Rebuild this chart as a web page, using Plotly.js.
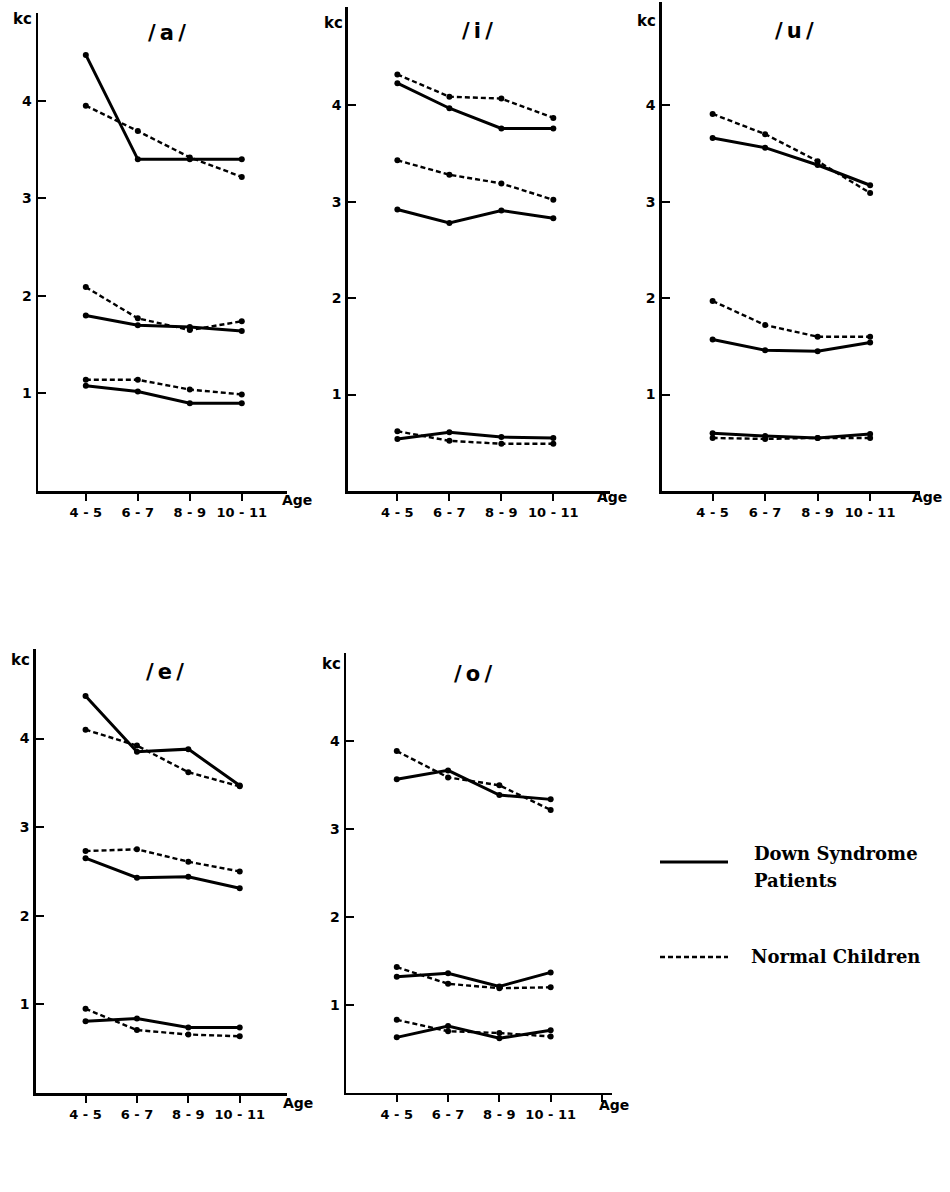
<!DOCTYPE html>
<html>
<head>
<meta charset="utf-8">
<script src="https://cdn.plot.ly/plotly-3.0.1.min.js"></script>
<style>
  html, body { margin: 0; padding: 0; background: #fff; }
  #chart { width: 950px; height: 1192px; }
</style>
</head>
<body>
<div id="chart"></div>
<script>
// ---------------- DATA (kc) ----------------
const ageGroups = ['4 - 5', '6 - 7', '8 - 9', '10 - 11'];
const seriesNames = ['Down Syndrome Patients', 'Normal Children'];

// /a/
const a_down_f1 = [1.08, 1.02, 0.90, 0.90];
const a_down_f2 = [1.80, 1.70, 1.68, 1.64];
const a_down_f3 = [4.47, 3.40, 3.40, 3.40];
const a_norm_f1 = [1.14, 1.14, 1.04, 0.99];
const a_norm_f2 = [2.09, 1.77, 1.65, 1.74];
const a_norm_f3 = [3.95, 3.69, 3.42, 3.22];

// /i/
const i_down_f1 = [0.54, 0.61, 0.56, 0.55];
const i_down_f2 = [2.92, 2.78, 2.91, 2.83];
const i_down_f3 = [4.23, 3.97, 3.76, 3.76];
const i_norm_f1 = [0.62, 0.52, 0.49, 0.49];
const i_norm_f2 = [3.43, 3.28, 3.19, 3.02];
const i_norm_f3 = [4.32, 4.09, 4.07, 3.87];

// /u/
const u_down_f1 = [0.60, 0.57, 0.55, 0.59];
const u_down_f2 = [1.57, 1.46, 1.45, 1.54];
const u_down_f3 = [3.66, 3.56, 3.38, 3.17];
const u_norm_f1 = [0.55, 0.54, 0.55, 0.55];
const u_norm_f2 = [1.97, 1.72, 1.60, 1.60];
const u_norm_f3 = [3.91, 3.70, 3.42, 3.09];

// /e/
const e_down_f1 = [0.81, 0.84, 0.74, 0.74];
const e_down_f2 = [2.65, 2.43, 2.44, 2.31];
const e_down_f3 = [4.48, 3.85, 3.88, 3.47];
const e_norm_f1 = [0.95, 0.71, 0.66, 0.64];
const e_norm_f2 = [2.73, 2.75, 2.61, 2.50];
const e_norm_f3 = [4.10, 3.92, 3.62, 3.46];

// /o/
const o_down_f1 = [0.63, 0.76, 0.62, 0.71];
const o_down_f2 = [1.32, 1.36, 1.21, 1.37];
const o_down_f3 = [3.57, 3.67, 3.39, 3.34];
const o_norm_f1 = [0.83, 0.70, 0.68, 0.64];
const o_norm_f2 = [1.43, 1.24, 1.19, 1.20];
const o_norm_f3 = [3.89, 3.59, 3.50, 3.22];

const yTickVals = [1, 2, 3, 4];
const yTickText = ['1', '2', '3', '4'];

const vowelSeries = {
  a: { down: [a_down_f1, a_down_f2, a_down_f3], norm: [a_norm_f1, a_norm_f2, a_norm_f3] },
  i: { down: [i_down_f1, i_down_f2, i_down_f3], norm: [i_norm_f1, i_norm_f2, i_norm_f3] },
  u: { down: [u_down_f1, u_down_f2, u_down_f3], norm: [u_norm_f1, u_norm_f2, u_norm_f3] },
  e: { down: [e_down_f1, e_down_f2, e_down_f3], norm: [e_norm_f1, e_norm_f2, e_norm_f3] },
  o: { down: [o_down_f1, o_down_f2, o_down_f3], norm: [o_norm_f1, o_norm_f2, o_norm_f3] }
};

// ---------------- LAYOUT (pixel geometry of each panel) ----------------
const W = 950, H = 1192;
const fx = p => p / W;
const fy = p => 1 - p / H;

const panels = [
  { v: 'a', title: '/\u2009a\u2009/', px: [38, 287],    py: [13, 491],    xr: [-0.92, 3.87], yr: [0, 4.90], extra: false,
    kc: [22, 19], tp: [167, 33], age: [297, 500] },
  { v: 'i', title: '/\u2009i\u2009/', px: [347.7, 610], py: [7, 491],     xr: [-0.956, 4.09], yr: [0, 5.02], extra: true,
    kc: [333, 23], tp: [477, 31], age: [612, 497] },
  { v: 'u', title: '/\u2009u\u2009/', px: [661.7, 920], py: [2, 491],     xr: [-0.97, 3.95], yr: [0, 5.07], extra: false,
    kc: [646, 21], tp: [794, 31], age: [927, 497] },
  { v: 'e', title: '/\u2009e\u2009/', px: [35.7, 287],  py: [649, 1093],  xr: [-0.97, 3.92], yr: [0, 5.01], extra: false,
    kc: [20, 660], tp: [165, 672], age: [298, 1103] },
  { v: 'o', title: '/\u2009o\u2009/', px: [346, 611.7], py: [652.7, 1092.7], xr: [-0.99, 4.19], yr: [0, 5.01], extra: true,
    kc: [331, 664], tp: [473, 674], age: [614, 1105] }
];

const SANS = 'DejaVu Sans, Liberation Sans, Arial, sans-serif';
const xTickFont = { family: SANS, size: 13, color: '#000', weight: 'bold' };
const yTickFont = { family: SANS, size: 14, color: '#000', weight: 'bold' };
const xIdx = ageGroups.map((_, k) => k);

const traces = [];
const layout = {
  width: W, height: H,
  margin: { l: 0, r: 0, t: 0, b: 0, pad: 0 },
  paper_bgcolor: '#fff', plot_bgcolor: '#fff',
  showlegend: false,
  annotations: [],
  shapes: []
};

panels.forEach((p, n) => {
  const id = n + 1;
  const xName = id === 1 ? 'x' : 'x' + id;
  const yName = id === 1 ? 'y' : 'y' + id;
  const xKey = id === 1 ? 'xaxis' : 'xaxis' + id;
  const yKey = id === 1 ? 'yaxis' : 'yaxis' + id;
  const ovId = id + 5;

  const tv = p.extra ? xIdx.concat([ageGroups.length]) : xIdx.slice();
  const tt = p.extra ? ageGroups.concat(['']) : ageGroups.slice();

  layout[xKey] = {
    domain: [fx(p.px[0]), fx(p.px[1])],
    anchor: yName,
    range: p.xr,
    tickmode: 'array', tickvals: tv, ticktext: tt,
    ticks: 'outside', ticklen: 7, tickwidth: 2, tickcolor: '#000',
    showline: true, linewidth: 2.5, linecolor: '#000',
    showgrid: false, zeroline: false,
    tickfont: xTickFont, ticklabelstandoff: 1,
    fixedrange: true
  };
  layout['xaxis' + ovId] = {
    overlaying: xName,
    anchor: yName,
    range: p.xr,
    tickmode: 'array', tickvals: tv, ticktext: tv.map(() => ''),
    ticks: 'inside', ticklen: 7, tickwidth: 2, tickcolor: '#000',
    showline: false, showgrid: false, zeroline: false, showticklabels: false
  };
  layout[yKey] = {
    domain: [fy(p.py[1]), fy(p.py[0])],
    anchor: xName,
    range: p.yr,
    tickmode: 'array', tickvals: yTickVals, ticktext: yTickText,
    ticks: 'inside', ticklen: 8, tickwidth: 2, tickcolor: '#000',
    showline: true, linewidth: 2.5, linecolor: '#000',
    showgrid: false, zeroline: false,
    tickfont: yTickFont, ticklabelstandoff: 1,
    fixedrange: true
  };

  const data = vowelSeries[p.v];
  ['down', 'norm'].forEach((grp, gi) => {
    data[grp].forEach((vals, fi) => {
      traces.push({
        type: 'scatter', mode: 'lines+markers',
        x: xIdx, y: vals,
        xaxis: xName, yaxis: yName,
        name: seriesNames[gi] + ' F' + (fi + 1),
        line: grp === 'down'
          ? { color: '#000', width: 3 }
          : { color: '#000', width: 2.4, dash: '5px,3px' },
        marker: { color: '#000', size: 6 },
        hoverinfo: 'x+y'
      });
    });
  });

  layout.annotations.push(
    { text: p.title, xref: 'paper', yref: 'paper', x: fx(p.tp[0]), y: fy(p.tp[1]),
      xanchor: 'center', yanchor: 'middle', showarrow: false,
      font: { family: SANS, size: 21, color: '#000', weight: 'bold' } },
    { text: 'kc', xref: 'paper', yref: 'paper', x: fx(p.kc[0]), y: fy(p.kc[1]),
      xanchor: 'center', yanchor: 'middle', showarrow: false,
      font: { family: SANS, size: 15, color: '#000', weight: 'bold' } },
    { text: 'Age', xref: 'paper', yref: 'paper', x: fx(p.age[0]), y: fy(p.age[1]),
      xanchor: 'center', yanchor: 'middle', showarrow: false,
      font: { family: SANS, size: 14, color: '#000', weight: 'bold' } }
  );
});

// ---------------- LEGEND (drawn beside the lower panels) ----------------
const legendFont = { family: 'DejaVu Serif, serif', size: 18, color: '#000', weight: 'bold' };
layout.shapes.push(
  { type: 'line', xref: 'paper', yref: 'paper', x0: fx(660), x1: fx(728), y0: fy(862), y1: fy(862),
    line: { color: '#000', width: 3 } },
  { type: 'line', xref: 'paper', yref: 'paper', x0: fx(660), x1: fx(728), y0: fy(957), y1: fy(957),
    line: { color: '#000', width: 2.4, dash: '5px,3px' } }
);
layout.annotations.push(
  { text: 'Down Syndrome', xref: 'paper', yref: 'paper', x: fx(752), y: fy(853),
    xanchor: 'left', yanchor: 'middle', showarrow: false, font: legendFont },
  { text: 'Patients', xref: 'paper', yref: 'paper', x: fx(752), y: fy(880),
    xanchor: 'left', yanchor: 'middle', showarrow: false, font: legendFont },
  { text: 'Normal Children', xref: 'paper', yref: 'paper', x: fx(749), y: fy(956),
    xanchor: 'left', yanchor: 'middle', showarrow: false, font: legendFont }
);

Plotly.newPlot('chart', traces, layout, { displayModeBar: false, staticPlot: true });
</script>
</body>
</html>
